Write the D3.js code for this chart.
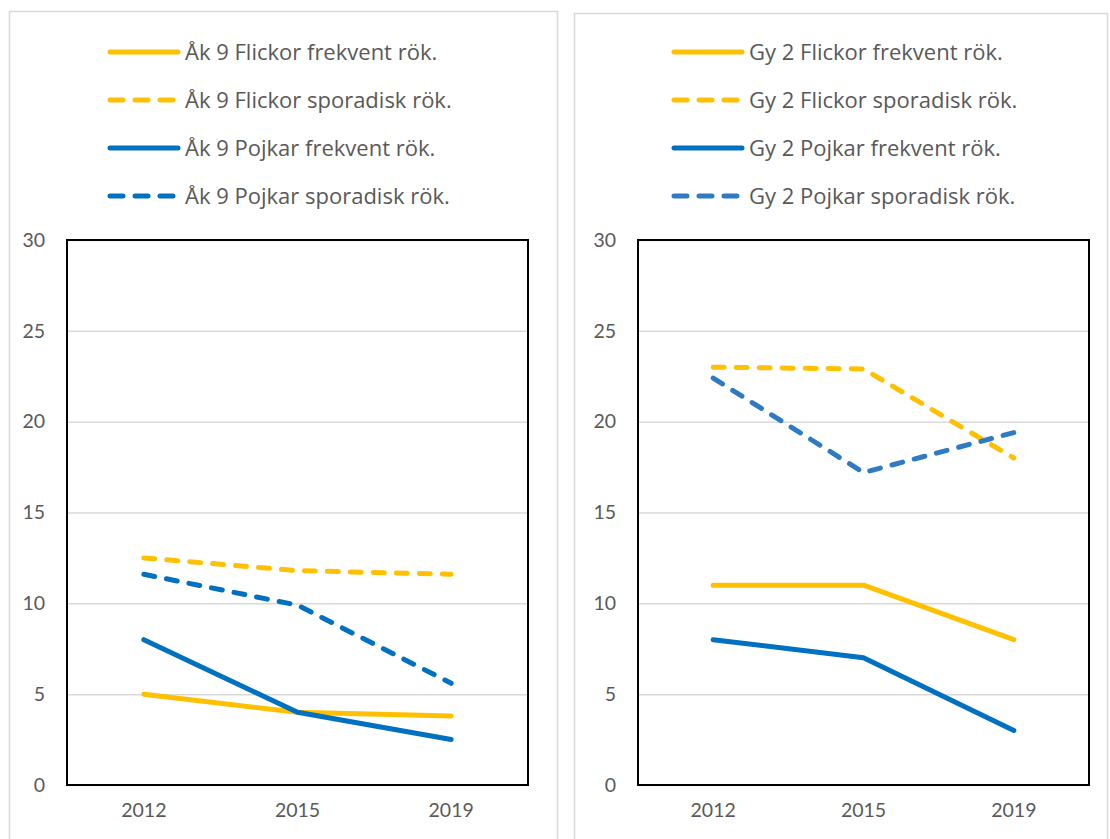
<!DOCTYPE html>
<html>
<head>
<meta charset="utf-8">
<script src="https://cdn.jsdelivr.net/npm/d3@7"></script>
<style>
  body { margin: 0; background: #fff; }
  svg { display: block; }
</style>
</head>
<body>
<div id="chart"></div>
<script>
// data
var years = ["2012", "2015", "2019"];
var yTicks = [0, 5, 10, 15, 20, 25, 30];

var ak9Names = ["Åk 9 Flickor frekvent rök.", "Åk 9 Flickor sporadisk rök.",
  "Åk 9 Pojkar frekvent rök.", "Åk 9 Pojkar sporadisk rök."];
var ak9FlickorFrekvent = [5, 4, 3.8];
var ak9FlickorSporadisk = [12.5, 11.8, 11.6];
var ak9PojkarFrekvent = [8, 4, 2.5];
var ak9PojkarSporadisk = [11.6, 9.9, 5.6];

var gy2Names = ["Gy 2 Flickor frekvent rök.", "Gy 2 Flickor sporadisk rök.",
  "Gy 2 Pojkar frekvent rök.", "Gy 2 Pojkar sporadisk rök."];
var gy2FlickorFrekvent = [11, 11, 8];
var gy2FlickorSporadisk = [23, 22.9, 18];
var gy2PojkarFrekvent = [8, 7, 3];
var gy2PojkarSporadisk = [22.4, 17.2, 19.4];

var W = 1110, H = 839;
var FONT = "Lato, 'Open Sans', sans-serif";
var LEGEND_FONT = "'Open Sans', Lato, sans-serif";
var TEXT = "#595959";

var svg = d3.select("#chart").append("svg")
  .attr("width", W)
  .attr("height", H);

function drawPanel(opts) {
  var g = svg.append("g");

  // outer chart border
  g.append("rect")
    .attr("x", opts.box[0] + 0.5)
    .attr("y", opts.box[1] + 0.5)
    .attr("width", opts.box[2])
    .attr("height", opts.box[3])
    .attr("fill", "#fff")
    .attr("stroke", "#d9d9d9")
    .attr("stroke-width", 1.5);

  var p = opts.plot; // left, top, right, bottom
  var x = d3.scaleBand().domain(years).range([p[0], p[2]]).padding(0);
  var y = d3.scaleLinear().domain([0, 30]).range([p[3], p[1]]);
  var cx = function (d, i) { return x(years[i]) + x.bandwidth() / 2; };

  // gridlines
  g.append("g")
    .attr("transform", "translate(" + p[0] + ",0)")
    .call(d3.axisLeft(y).tickValues(yTicks).tickSize(-(p[2] - p[0])).tickFormat(""))
    .call(function (a) {
      a.select(".domain").remove();
      a.selectAll("line").attr("stroke", "#d9d9d9").attr("stroke-width", 1.5);
    });

  // y labels
  g.append("g")
    .attr("transform", "translate(" + (p[0] - 22) + ",0)")
    .call(d3.axisLeft(y).tickValues(yTicks).tickSize(0).tickPadding(0))
    .call(function (a) {
      a.select(".domain").remove();
      a.selectAll("text")
        .attr("font-family", FONT)
        .attr("font-size", "19.5px")
        .attr("fill", TEXT);
    });

  // x labels
  g.append("g")
    .attr("transform", "translate(0," + (p[3] + 18) + ")")
    .call(d3.axisBottom(x).tickSize(0).tickPadding(0))
    .call(function (a) {
      a.select(".domain").remove();
      a.selectAll("text")
        .attr("font-family", FONT)
        .attr("font-size", "19.5px")
        .attr("fill", TEXT);
    });

  // plot frame
  g.append("rect")
    .attr("x", p[0])
    .attr("y", p[1])
    .attr("width", p[2] - p[0])
    .attr("height", p[3] - p[1])
    .attr("fill", "none")
    .attr("stroke", "#000")
    .attr("stroke-width", 2);

  var line = d3.line()
    .x(cx)
    .y(function (d) { return y(d); });

  opts.series.forEach(function (s) {
    g.append("path")
      .datum(s.values)
      .attr("d", line)
      .attr("fill", "none")
      .attr("stroke", s.color)
      .attr("stroke-width", 5)
      .attr("stroke-linecap", "round")
      .attr("stroke-linejoin", "round")
      .attr("stroke-dasharray", s.dashed ? "11,12" : null);
  });

  // legend
  var lg = g.append("g").selectAll("g")
    .data(opts.series)
    .enter().append("g")
    .attr("transform", function (d, i) {
      return "translate(" + opts.legend[0] + "," + (opts.legend[1] + i * 48) + ")";
    });

  lg.append("line")
    .attr("x1", 0)
    .attr("x2", function (d) { return d.dashed ? 63 : 68; })
    .attr("y1", 0).attr("y2", 0)
    .attr("stroke", function (d) { return d.color; })
    .attr("stroke-width", 5)
    .attr("stroke-linecap", "round")
    .attr("stroke-dasharray", function (d) { return d.dashed ? "13,12" : null; });

  lg.append("text")
    .attr("x", 75)
    .attr("y", 0)
    .attr("dy", "0.35em")
    .attr("font-family", LEGEND_FONT)
    .attr("font-size", "22px")
    .attr("fill", TEXT)
    .text(function (d) { return d.name; });
}

drawPanel({
  box: [9, 11, 548, 840],
  plot: [67, 240, 528, 785],
  legend: [110, 52],
  series: [
    { name: ak9Names[0], values: ak9FlickorFrekvent, color: "#ffc000", dashed: false },
    { name: ak9Names[1], values: ak9FlickorSporadisk, color: "#ffc000", dashed: true },
    { name: ak9Names[2], values: ak9PojkarFrekvent, color: "#0070c0", dashed: false },
    { name: ak9Names[3], values: ak9PojkarSporadisk, color: "#0070c0", dashed: true }
  ]
});

drawPanel({
  box: [574, 13, 533, 840],
  plot: [638, 240, 1089, 785],
  legend: [674, 52],
  series: [
    { name: gy2Names[0], values: gy2FlickorFrekvent, color: "#ffc000", dashed: false },
    { name: gy2Names[1], values: gy2FlickorSporadisk, color: "#ffc000", dashed: true },
    { name: gy2Names[2], values: gy2PojkarFrekvent, color: "#0070c0", dashed: false },
    { name: gy2Names[3], values: gy2PojkarSporadisk, color: "#2e7bc4", dashed: true }
  ]
});
</script>
</body>
</html>
